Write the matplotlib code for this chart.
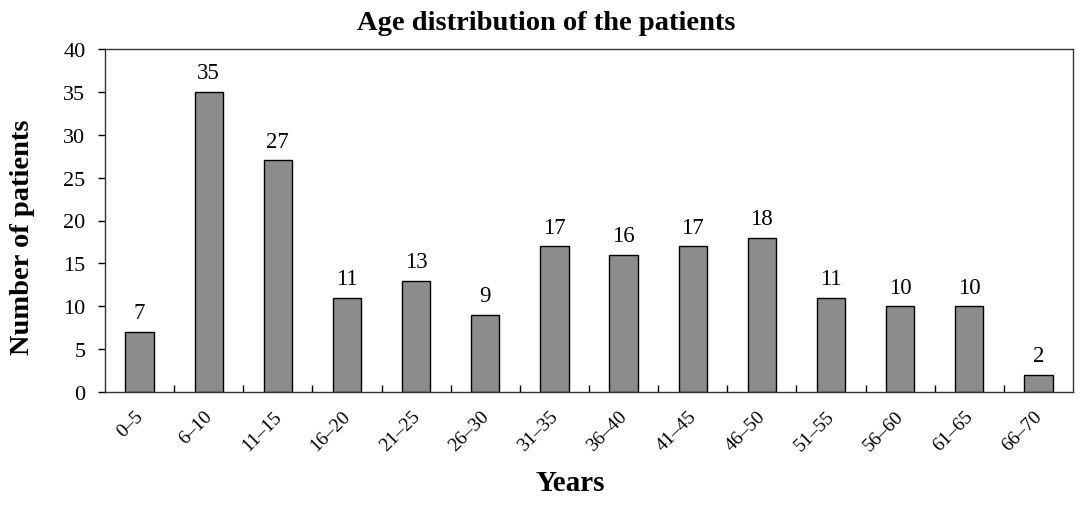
import matplotlib
matplotlib.use("Agg")
import matplotlib.pyplot as plt
import matplotlib.transforms as mtransforms
import numpy as np

categories = ["0\u20135", "6\u201310", "11\u201315", "16\u201320", "21\u201325", "26\u201330", "31\u201335",
              "36\u201340", "41\u201345", "46\u201350", "51\u201355", "56\u201360", "61\u201365", "66\u201370"]
values = [7, 35, 27, 11, 13, 9, 17, 16, 17, 18, 11, 10, 10, 2]
yticks = [0, 5, 10, 15, 20, 25, 30, 35, 40]

plt.rcParams['font.family'] = ['Liberation Serif', 'DejaVu Serif']

W, H = 1087, 506
fig = plt.figure(figsize=(W / 100, H / 100), dpi=100)
ax = fig.add_axes([105 / W, 1 - 393 / H, (1073 - 105) / W, (393 - 50) / H])

x = np.arange(len(categories))
ax.bar(x, values, width=0.41, color='#8c8c8c', edgecolor='black', linewidth=1.0)
for xi, v in zip(x, values):
    ax.text(xi, v + 1.0, str(v), ha='center', va='bottom', fontsize=16.5)

ax.set_xlim(-0.5, len(categories) - 0.5)
ax.set_ylim(0, 40)
ax.set_yticks(yticks)
ax.set_yticklabels([str(t) for t in yticks], fontsize=16)
ax.tick_params(axis='y', direction='out', length=5, width=1, pad=9)

ax.set_xticks(x)
ax.set_xticklabels(categories, rotation=45, ha='right', rotation_mode='anchor', fontsize=14)
ax.tick_params(axis='x', which='major', length=0, pad=11)
offset = mtransforms.ScaledTranslation(-5 / 100, 0, fig.dpi_scale_trans)
for lbl in ax.get_xticklabels():
    lbl.set_transform(lbl.get_transform() + offset)
ax.set_xticks(np.arange(0.5, len(categories) - 0.5, 1), minor=True)
ax.tick_params(axis='x', which='minor', direction='in', length=5, width=1)

for s in ax.spines.values():
    s.set_linewidth(1.0)
    s.set_color('#333333')

fig.text(546 / W, 1 - 23 / H, "Age distribution of the patients", fontsize=20.5,
         fontweight='bold', ha='center', va='center')
fig.text(23 / W, 1 - 237 / H, "Number of patients", fontsize=20.5, fontweight='bold',
         ha='center', va='center', rotation=90)
fig.text(570 / W, 1 - 484 / H, "Years", fontsize=21, fontweight='bold',
         ha='center', va='center')

fig.savefig("out.png", dpi=100, facecolor='white')
